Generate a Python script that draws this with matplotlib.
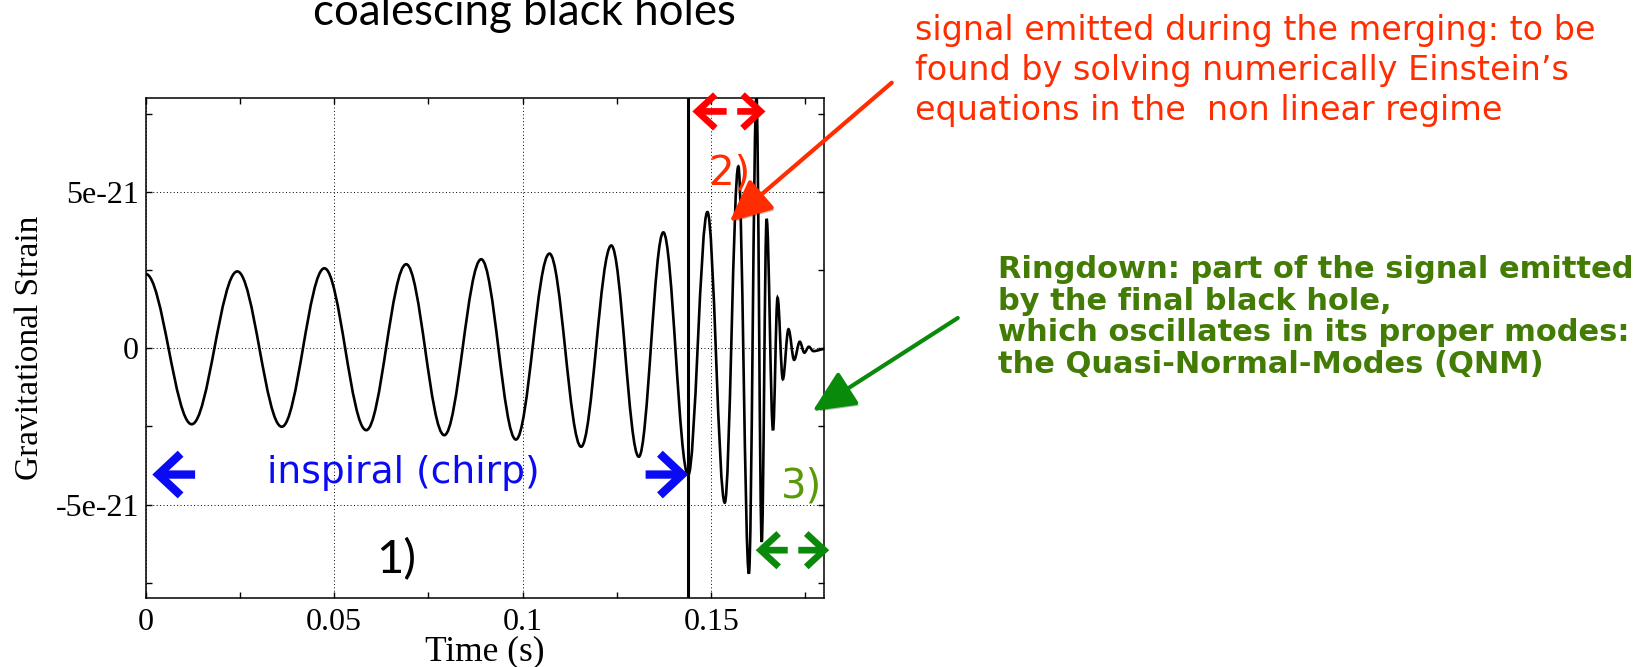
import numpy as np
import matplotlib
matplotlib.use("Agg")
import matplotlib.pyplot as plt
from matplotlib.path import Path
from matplotlib.patches import PathPatch
from matplotlib.ticker import MultipleLocator
import matplotlib.patheffects as pe

# extrema of the waveform (time in s, strain in 1e-21)
t_ext = [0.0, 0.0122, 0.0243, 0.0361, 0.0474, 0.0585, 0.0691, 0.0792, 0.0890,
         0.0982, 0.1071, 0.1155, 0.1235, 0.1308, 0.1373, 0.1439, 0.1490,
         0.1536, 0.1572, 0.1600, 0.1620, 0.1634, 0.1647, 0.1664, 0.1676,
         0.1690, 0.1705, 0.1720, 0.1735, 0.1747, 0.1759, 0.1771, 0.1802]
h_ext = [2.38, -2.43, 2.46, -2.51, 2.56, -2.62, 2.69, -2.78, 2.85,
         -2.92, 3.03, -3.15, 3.29, -3.47, 3.71, -4.06, 4.36,
         -4.94, 5.82, -7.21, 8.10, -6.20, 4.14, -2.62, 1.62,
         -0.99, 0.61, -0.37, 0.21, -0.14, 0.05, -0.09, -0.02]

x_major = [0, 0.05, 0.1, 0.15]
x_labels = ["0", "0.05", "0.1", "0.15"]
y_major = [-5e-21, 0, 5e-21]
y_labels = ["-5e-21", "0", "5e-21"]

t_merge = 0.1439          # black vertical line

title = "coalescing black holes"
red_lines = ["signal emitted during the merging: to be",
             "found by solving numerically Einstein\u2019s",
             "equations in the  non linear regime"]
green_lines = ["Ringdown: part of the signal emitted",
               "by the final black hole,",
               "which oscillates in its proper modes:",
               "the Quasi-Normal-Modes (QNM)"]

# annotation anchors in data units (t, strain 1e-21)
inspiral_left = [0.0131, 0.00175]
inspiral_right = [0.1326, 0.1439]
inspiral_y = -4.04
merge_arrow = [0.1450, 0.1555, 0.1644]   # left tip, gap centre, right tip
merge_y = 7.58
ring_arrow = [0.1618, 0.1717, 0.1813]
ring_y = -6.46
red_pointer = [(0.1979, 8.50), (0.1549, 4.05)]
green_pointer = [(0.2154, 0.97), (0.1769, -2.01)]

RED = "#ff2d00"
BLUE = "#0a0af5"
GREEN = "#0a8a0a"
OLIVE = "#5a9a0a"
DKGREEN = "#437c05"

plt.rcParams["font.family"] = ["DejaVu Sans"]
fig = plt.figure(figsize=(16.39, 6.67), dpi=100)
W, H = 1639.0, 667.0
ax = fig.add_axes([145.7 / W, 1 - 598.3 / H, (824.3 - 145.7) / W, 500 / H])
renderer = fig.canvas.get_renderer()


def fit_width(txt, target_px):
    # scale the font so the text spans the width seen in the reference
    w = txt.get_window_extent(renderer).width
    txt.set_fontsize(txt.get_fontsize() * target_px / w)
    return txt.get_fontsize()


# smooth waveform through the extrema (cubic bezier, flat at each extremum)
t = np.array(t_ext)
h = np.array(h_ext) * 1e-21
k = 0.3634
verts = [(t[0], h[0])]
codes = [Path.MOVETO]
for i in range(len(t) - 1):
    dt = t[i + 1] - t[i]
    verts += [(t[i] + k * dt, h[i]), (t[i + 1] - k * dt, h[i + 1]), (t[i + 1], h[i + 1])]
    codes += [Path.CURVE4] * 3
ax.add_patch(PathPatch(Path(verts, codes), fill=False, lw=1.9, ec="black", zorder=3))

ax.axvline(t_merge, color="black", lw=2.2, zorder=3)

ax.set_xlim(0, 0.18)
ax.set_ylim(-8e-21, 8e-21)
ax.set_xticks(x_major)
ax.set_xticklabels(x_labels)
ax.set_yticks(y_major)
ax.set_yticklabels(y_labels)
ax.xaxis.set_minor_locator(MultipleLocator(0.025))
ax.yaxis.set_minor_locator(MultipleLocator(2.5e-21))
ax.tick_params(which="both", direction="in", top=True, right=True, length=4.5, width=1)
ax.tick_params(axis="x", pad=7)
ax.tick_params(axis="y", pad=5)
for lab in ax.get_xticklabels() + ax.get_yticklabels():
    lab.set_fontfamily("Liberation Serif")
    lab.set_fontsize(23)
ax.grid(True, which="major", color="black", lw=0.7, linestyle=(0, (1, 2.5)))
for s in ax.spines.values():
    s.set_linewidth(1.1)

ax.set_xlabel("Time (s)", fontfamily="Liberation Serif", fontsize=25.5, va="center")
ax.xaxis.set_label_coords(0.5, -0.108)
ax.set_ylabel("Gravitational Strain", fontfamily="Liberation Serif", fontsize=24, va="center")
ax.yaxis.set_label_coords((30 - 145.7) / 678.6, 0.5)

# blue inspiral arrows and label
for a, b in [inspiral_left, inspiral_right]:
    ax.annotate("", xy=(b, inspiral_y * 1e-21), xytext=(a, inspiral_y * 1e-21),
                arrowprops=dict(arrowstyle="->,head_length=0.8,head_width=0.75",
                                color=BLUE, lw=6, mutation_scale=20,
                                shrinkA=0, shrinkB=0, joinstyle="miter", capstyle="butt"))
insp = ax.text(0.0321, -4.30e-21, "inspiral (chirp)", color=BLUE, fontsize=25, va="baseline")
fit_width(insp, 273)

# dashed double arrows (two halves with a gap in the middle)
for (left, mid, right), yy, col in [(merge_arrow, merge_y, "#ff0000"), (ring_arrow, ring_y, GREEN)]:
    gap = 0.0014
    for start, end in [(mid - gap, left), (mid + gap, right)]:
        ax.annotate("", xy=(end, yy * 1e-21), xytext=(start, yy * 1e-21),
                    annotation_clip=False,
                    arrowprops=dict(arrowstyle="->,head_length=0.65,head_width=0.6",
                                    color=col, lw=4.8, mutation_scale=20,
                                    shrinkA=0, shrinkB=0, joinstyle="miter", capstyle="butt"))

ax.text(0.0665, -7.2e-21, "1)", fontsize=34, fontfamily="Lato", ha="center", va="baseline")
ax.text(0.1548, 5.23e-21, "2)", fontsize=29, color=RED, ha="center", va="baseline")
ax.text(0.1740, -4.76e-21, "3)", fontsize=29, color=OLIVE, ha="center", va="baseline")

# pointer arrows from the side notes
shadow = [pe.SimplePatchShadow(offset=(2, -2), alpha=0.3), pe.Normal()]
for (tail, tip), col in [(red_pointer, RED), (green_pointer, GREEN)]:
    ann = ax.annotate("", xy=(tip[0], tip[1] * 1e-21), xytext=(tail[0], tail[1] * 1e-21),
                      annotation_clip=False,
                      arrowprops=dict(arrowstyle="-|>,head_length=1.3,head_width=0.6",
                                      color=col, lw=3, mutation_scale=20,
                                      shrinkA=0, shrinkB=0))
    ann.arrow_patch.set_clip_on(False)
    ann.arrow_patch.set_path_effects(shadow)

ttl = fig.text(524 / W, 1 - 25 / H, title, fontsize=30, fontfamily="Lato", ha="center", va="baseline")
fit_width(ttl, 422)

red_txt = [fig.text(915 / W, 1 - (40 + 40 * i) / H, line, color=RED, fontsize=21, va="baseline")
           for i, line in enumerate(red_lines)]
size = fit_width(red_txt[0], 680)
for tx in red_txt[1:]:
    tx.set_fontsize(size)

green_txt = [fig.text(998 / W, 1 - (278 + 31.7 * i) / H, line, color=DKGREEN, fontsize=20,
                      fontweight="bold", va="baseline")
             for i, line in enumerate(green_lines)]
size = fit_width(green_txt[0], 638)
for tx in green_txt[1:]:
    tx.set_fontsize(size)

fig.savefig("out.png", dpi=100)
